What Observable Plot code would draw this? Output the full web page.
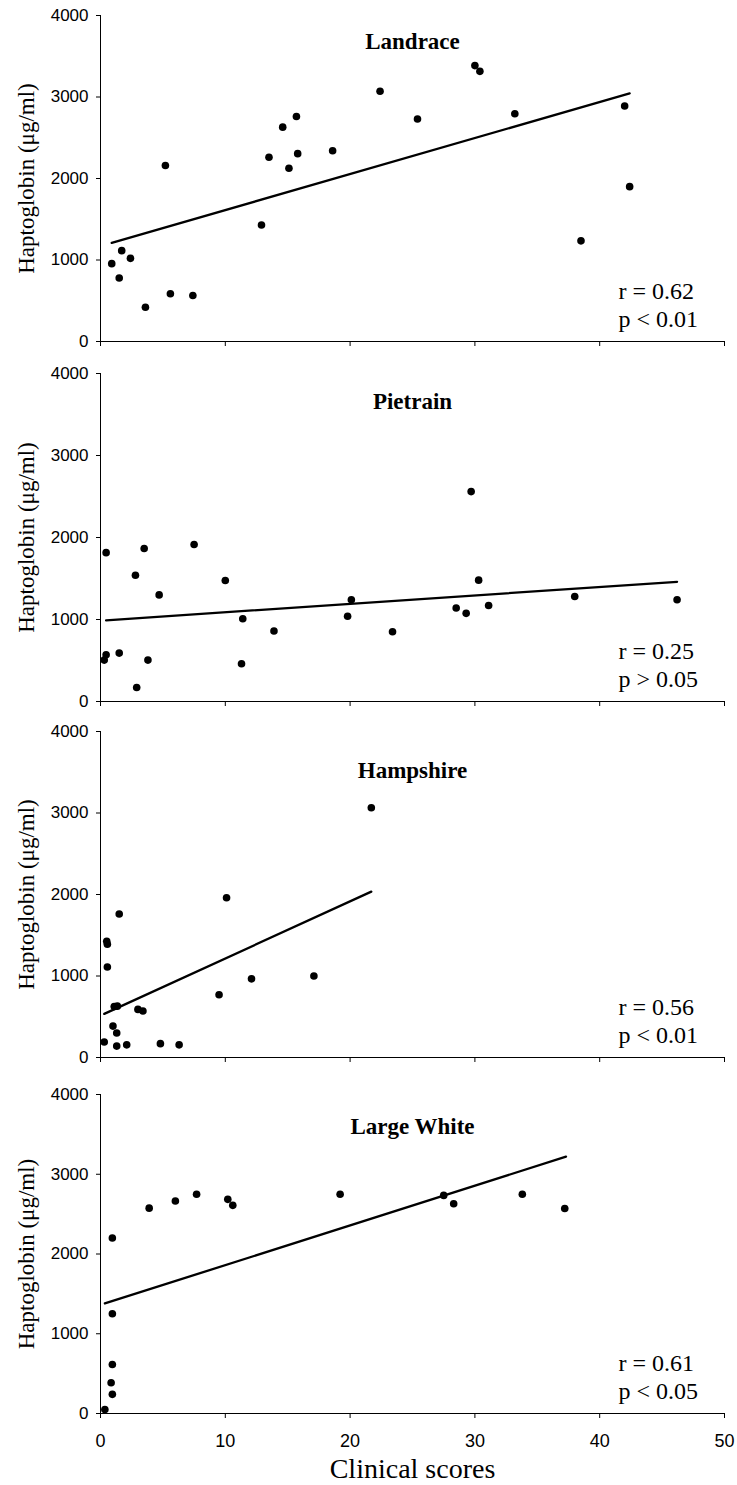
<!DOCTYPE html>
<html><head><meta charset="utf-8">
<script src="https://cdn.jsdelivr.net/npm/d3@7"></script>
<script src="https://cdn.jsdelivr.net/npm/@observablehq/plot@0.6"></script>
<style>
html,body{margin:0;padding:0;background:#fff;overflow:hidden;}
#chart{position:relative;width:737px;height:1485px;}
#chart svg{position:absolute;left:0;}
</style></head><body><div id="chart"></div>
<script>
// ---- data ----
const breeds = ["Landrace", "Pietrain", "Hampshire", "Large White"];
const rTexts = ["r = 0.62", "r = 0.25", "r = 0.56", "r = 0.61"];
const pTexts = ["p < 0.01", "p > 0.05", "p < 0.01", "p < 0.05"];
const xTicks = [0, 10, 20, 30, 40, 50];
const yTicks = [0, 1000, 2000, 3000, 4000];
const yLabel = "Haptoglobin (μg/ml)";
const xLabel = "Clinical scores";

const landraceScore = [0.9, 1.5, 1.7, 2.4, 3.6, 5.2, 5.6, 7.4, 12.9, 13.5, 14.6, 15.1, 15.7, 15.8, 18.6, 22.4, 25.4, 30.0, 30.4, 33.2, 38.5, 42.0, 42.4];
const landraceHp    = [955, 780, 1115, 1020, 420, 2160, 585, 565, 1430, 2260, 2630, 2125, 2760, 2305, 2340, 3070, 2730, 3385, 3315, 2795, 1235, 2890, 1900];
const landraceTrendScore = [0.9, 42.4];
const landraceTrendHp    = [1210, 3045];

const pietrainScore = [0.3, 0.45, 0.45, 1.5, 2.8, 2.9, 3.5, 3.8, 4.7, 7.5, 10.0, 11.3, 11.4, 13.9, 19.8, 20.1, 23.4, 28.5, 29.3, 29.7, 30.3, 31.1, 38.0, 46.2];
const pietrainHp    = [505, 1815, 570, 590, 1540, 170, 1865, 505, 1300, 1915, 1475, 460, 1010, 860, 1040, 1240, 850, 1140, 1075, 2560, 1480, 1170, 1280, 1240];
const pietrainTrendScore = [0.45, 46.2];
const pietrainTrendHp    = [990, 1460];

const hampshireScore = [0.3, 0.5, 0.55, 0.55, 1.0, 1.1, 1.3, 1.3, 1.35, 1.5, 2.1, 3.0, 3.4, 4.8, 6.3, 9.5, 10.1, 12.1, 17.1, 21.7];
const hampshireHp    = [190, 1425, 1390, 1110, 385, 625, 300, 140, 630, 1760, 155, 590, 570, 170, 155, 770, 1960, 965, 1000, 3065];
const hampshireTrendScore = [0.3, 21.7];
const hampshireTrendHp    = [535, 2035];

const largeWhiteScore = [0.35, 0.95, 0.85, 0.95, 0.95, 0.95, 3.9, 6.0, 7.7, 10.2, 10.6, 19.2, 27.5, 28.3, 33.8, 37.2];
const largeWhiteHp    = [50, 240, 385, 615, 1250, 2200, 2575, 2665, 2750, 2685, 2610, 2750, 2735, 2630, 2750, 2570];
const largeWhiteTrendScore = [0.35, 37.3];
const largeWhiteTrendHp    = [1380, 3220];

const scores = [landraceScore, pietrainScore, hampshireScore, largeWhiteScore];
const hps = [landraceHp, pietrainHp, hampshireHp, largeWhiteHp];
const trendScores = [landraceTrendScore, pietrainTrendScore, hampshireTrendScore, largeWhiteTrendScore];
const trendHps = [landraceTrendHp, pietrainTrendHp, hampshireTrendHp, largeWhiteTrendHp];

// ---- layout (pixels) ----
const layout = [
  {top: 15,   plotH: 326, titleDy: 33},
  {top: 373,  plotH: 328, titleDy: 35},
  {top: 731,  plotH: 326, titleDy: 46},
  {top: 1094, plotH: 319, titleDy: 39}
];

const serif = "'Liberation Serif', 'Times New Roman', serif";
const sans = "'Liberation Sans', Arial, sans-serif";
const container = document.getElementById("chart");

breeds.forEach((name, i) => {
  const isLast = i === breeds.length - 1;
  const data = scores[i].map((s, j) => ({score: s, hp: hps[i][j]}));
  const trend = trendScores[i].map((s, j) => ({score: s, hp: trendHps[i][j]}));
  const mt = 15, mb = isLast ? 72 : 12;
  const L = layout[i];
  const chart = Plot.plot({
    width: 737,
    height: mt + L.plotH + mb,
    marginTop: mt,
    marginBottom: mb,
    marginLeft: 100,
    marginRight: 13,
    x: {domain: [0, 50]},
    y: {domain: [0, 4000]},
    style: {fontFamily: sans, color: "#000", background: "#fff", overflow: "visible"},
    marks: [
      Plot.axisY({ticks: yTicks, tickSize: 4, tickPadding: 8, label: null, fontSize: 17, tickFormat: d => String(d)}),
      Plot.axisX({ticks: xTicks, tickSize: 5, tickPadding: 16, label: null, fontSize: 18,
                  tickFormat: isLast ? (d => String(d)) : (() => "")}),
      Plot.ruleX([0], {stroke: "#000"}),
      Plot.ruleY([0], {stroke: "#000"}),
      Plot.line(trend, {x: "score", y: "hp", stroke: "#000", strokeWidth: 2.3}),
      Plot.dot(data, {x: "score", y: "hp", r: 3.8, fill: "#000", stroke: null}),
      Plot.text([name], {frameAnchor: "top", textAnchor: "middle", lineAnchor: "bottom", dy: L.titleDy,
                         fontFamily: serif, fontWeight: "bold", fontSize: 23, fill: "#000"}),
      Plot.text([rTexts[i] + "\n" + pTexts[i]], {frameAnchor: "bottom-right", textAnchor: "start", lineAnchor: "bottom",
                         dx: -106, dy: -15, lineHeight: 1.13, fontFamily: serif, fontSize: 24, fill: "#000"}),
      Plot.text([yLabel], {frameAnchor: "left", rotate: -90, textAnchor: "middle", lineAnchor: "middle", dx: -74,
                         fontFamily: serif, fontSize: 23, fill: "#000"}),
      isLast ? Plot.text([xLabel], {frameAnchor: "bottom", textAnchor: "middle", lineAnchor: "bottom", dy: 64,
                         fontFamily: serif, fontSize: 28, fill: "#000"}) : null
    ]
  });
  chart.style.top = (L.top - mt) + "px";
  container.appendChild(chart);
});
</script>
</body></html>
